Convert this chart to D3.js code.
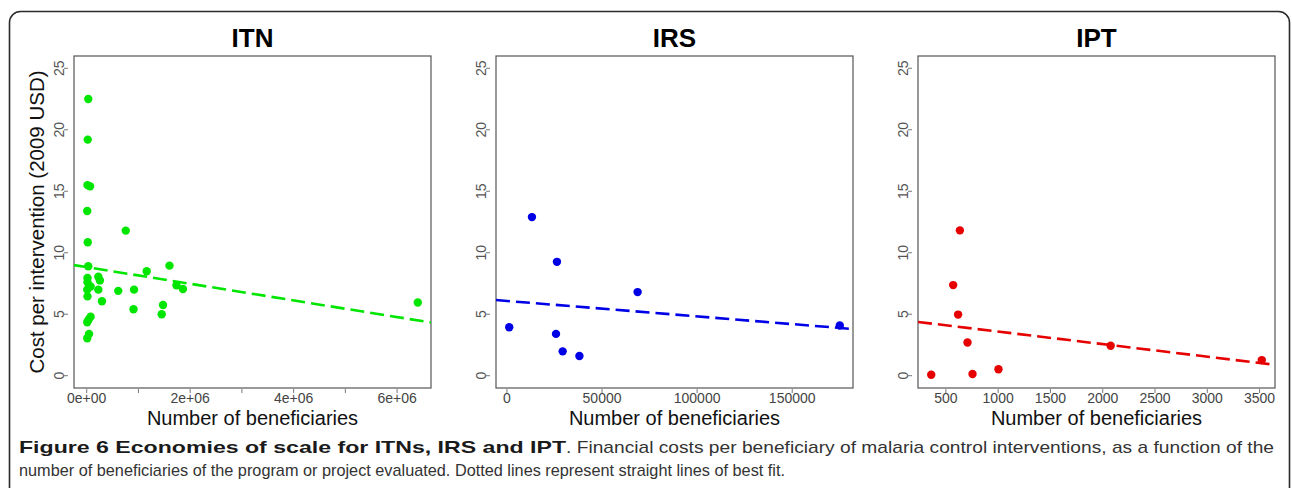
<!DOCTYPE html>
<html>
<head>
<meta charset="utf-8">
<script src="https://cdn.jsdelivr.net/npm/d3@7"></script>
<style>
  html, body { margin: 0; padding: 0; background: #fff; }
  svg { display: block; }
</style>
</head>
<body>
<svg id="chart" width="1292" height="488"></svg>
<script>
// ---------------- data ----------------
const panelTitles = ["ITN", "IRS", "IPT"];
const panelColors = ["#00e600", "#0000e6", "#e60000"];

const itnX = [30000, 20000, 15000, 65000, 10000, 20000, 30000, 15000, 15000, 75000, 10000,
              15000, 75000, 35000, 10000, 45000, 10000, 225000, 255000, 225000, 295000,
              610000, 755000, 915000, 905000, 1160000, 1600000, 1475000, 1450000, 1735000,
              1860000, 6400000];
const itnY = [22.5, 19.2, 15.5, 15.4, 13.4, 10.85, 8.9, 7.95, 7.6, 7.25, 7.0,
              6.45, 4.8, 4.55, 4.35, 3.4, 3.05, 8.05, 7.75, 7.0, 6.05,
              6.9, 11.8, 7.0, 5.4, 8.5, 8.95, 5.75, 5.0, 7.35,
              7.05, 5.95];

const irsX = [1200, 13150, 26300, 25800, 29300, 38100, 68700, 175000];
const irsY = [3.94, 12.9, 9.26, 3.4, 1.98, 1.6, 6.8, 4.08];

const iptX = [360, 755, 1003, 634, 570, 617, 707, 2076, 3521];
const iptY = [0.08, 0.14, 0.52, 11.82, 7.37, 4.97, 2.7, 2.43, 1.27];

// straight lines of best fit (intercept, slope)
const fitIntercept = [8.83, 6.08, 4.61];
const fitSlope = [-6.77e-7, -1.255e-5, -1.021e-3];

const yTicks = [0, 5, 10, 15, 20, 25];
const itnTicks = [0, 1e6, 2e6, 3e6, 4e6, 5e6, 6e6];
const itnTickLabels = ["0e+00", "", "2e+06", "", "4e+06", "", "6e+06"];
const irsTicks = [0, 50000, 100000, 150000];
const irsTickLabels = ["0", "50000", "100000", "150000"];
const iptTicks = [500, 1000, 1500, 2000, 2500, 3000, 3500];
const iptTickLabels = ["500", "1000", "1500", "2000", "2500", "3000", "3500"];

const xLabel = "Number of beneficiaries";
const yLabel = "Cost per intervention (2009 USD)";
const captionBold = "Figure 6 Economies of scale for ITNs, IRS and IPT";
const captionRest1 = ". Financial costs per beneficiary of malaria control interventions, as a function of the";
const captionLine2 = "number of beneficiaries of the program or project evaluated. Dotted lines represent straight lines of best fit.";

// ---------------- layout ----------------
const svg = d3.select("#chart");
const font = "'Liberation Sans', Arial, Helvetica, sans-serif";
const capFont = "'Liberation Sans', Arial, sans-serif";

// outer rounded frame
svg.append("rect")
  .attr("x", 9.5).attr("y", 11.5)
  .attr("width", 1280).attr("height", 520)
  .attr("rx", 11).attr("ry", 11)
  .attr("fill", "none").attr("stroke", "#2a2a2a").attr("stroke-width", 1.6);

const boxTop = 56, boxBottom = 388, boxW = 357;
const boxLefts = [74, 496, 918];

const panels = [
  {xs: itnX, ys: itnY, ticks: itnTicks, labels: itnTickLabels},
  {xs: irsX, ys: irsY, ticks: irsTicks, labels: irsTickLabels},
  {xs: iptX, ys: iptY, ticks: iptTicks, labels: iptTickLabels}
];

const y = d3.scaleLinear().domain([-1, 26]).range([boxBottom, boxTop]);

panels.forEach((p, i) => {
  const left = boxLefts[i], right = left + boxW;
  const [mn, mx] = d3.extent(p.xs);
  const pad = 0.04 * (mx - mn);
  const x = d3.scaleLinear().domain([mn - pad, mx + pad]).range([left, right]);
  const g = svg.append("g");
  const col = panelColors[i];

  // title
  g.append("text")
    .attr("x", (left + right) / 2).attr("y", 47)
    .attr("text-anchor", "middle")
    .attr("font-family", font).attr("font-weight", "bold")
    .attr("font-size", 26).attr("fill", "#000")
    .text(panelTitles[i]);

  // plot box
  g.append("rect")
    .attr("x", left).attr("y", boxTop)
    .attr("width", boxW).attr("height", boxBottom - boxTop)
    .attr("fill", "none").attr("stroke", "#555").attr("stroke-width", 1.2);

  // y axis ticks + labels
  yTicks.forEach(t => {
    g.append("line")
      .attr("x1", left - 6).attr("x2", left - 10)
      .attr("y1", y(t)).attr("y2", y(t))
      .attr("stroke", "#777").attr("stroke-width", 1);
    g.append("text")
      .attr("transform", `translate(${left - 10.5},${y(t)}) rotate(-90)`)
      .attr("text-anchor", "middle")
      .attr("font-family", font).attr("font-size", 14).attr("fill", "#555")
      .text(t);
  });

  // x axis ticks + labels
  p.ticks.forEach((t, k) => {
    g.append("line")
      .attr("x1", x(t)).attr("x2", x(t))
      .attr("y1", boxBottom + 1).attr("y2", boxBottom + 5)
      .attr("stroke", "#777").attr("stroke-width", 1);
    if (p.labels[k]) {
      g.append("text")
        .attr("x", x(t)).attr("y", 403)
        .attr("text-anchor", "middle")
        .attr("font-family", font).attr("font-size", 14).attr("fill", "#444")
        .text(p.labels[k]);
    }
  });

  // x axis title
  g.append("text")
    .attr("x", (left + right) / 2).attr("y", 424.5)
    .attr("text-anchor", "middle")
    .attr("font-family", font).attr("font-size", 20).attr("fill", "#111")
    .text(xLabel);

  // clip
  const clipId = "clip" + i;
  svg.append("clipPath").attr("id", clipId)
    .append("rect").attr("x", left).attr("y", boxTop)
    .attr("width", boxW).attr("height", boxBottom - boxTop);

  // fit line
  const [d0, d1] = x.domain();
  const line = d3.line().x(d => x(d[0])).y(d => y(d[1]));
  g.append("path")
    .attr("clip-path", `url(#${clipId})`)
    .attr("d", line([[d0, fitIntercept[i] + fitSlope[i] * d0], [d1, fitIntercept[i] + fitSlope[i] * d1]]))
    .attr("fill", "none").attr("stroke", col)
    .attr("stroke-width", 2.6).attr("stroke-dasharray", "14,6");

  // points
  g.selectAll("circle.pt").data(d3.range(p.xs.length)).join("circle")
    .attr("class", "pt")
    .attr("cx", k => x(p.xs[k])).attr("cy", k => y(p.ys[k]))
    .attr("r", 4.2).attr("fill", col);
});

// y axis title (first panel only)
svg.append("text")
  .attr("transform", `translate(44,${(boxTop + boxBottom) / 2}) rotate(-90)`)
  .attr("text-anchor", "middle")
  .attr("font-family", font).attr("font-size", 20.5).attr("fill", "#111")
  .text(yLabel);

// caption
svg.append("text")
  .attr("x", 19).attr("y", 453)
  .attr("font-family", capFont).attr("font-weight", "bold")
  .attr("font-size", 17).attr("fill", "#1a1a1a")
  .attr("textLength", 547).attr("lengthAdjust", "spacingAndGlyphs")
  .text(captionBold);
svg.append("text")
  .attr("x", 566).attr("y", 453)
  .attr("font-family", capFont)
  .attr("font-size", 17).attr("fill", "#333")
  .attr("textLength", 708).attr("lengthAdjust", "spacingAndGlyphs")
  .text(captionRest1);
svg.append("text")
  .attr("x", 19).attr("y", 476)
  .attr("font-family", capFont)
  .attr("font-size", 17).attr("fill", "#333")
  .attr("textLength", 766).attr("lengthAdjust", "spacingAndGlyphs")
  .text(captionLine2);
</script>
</body>
</html>
